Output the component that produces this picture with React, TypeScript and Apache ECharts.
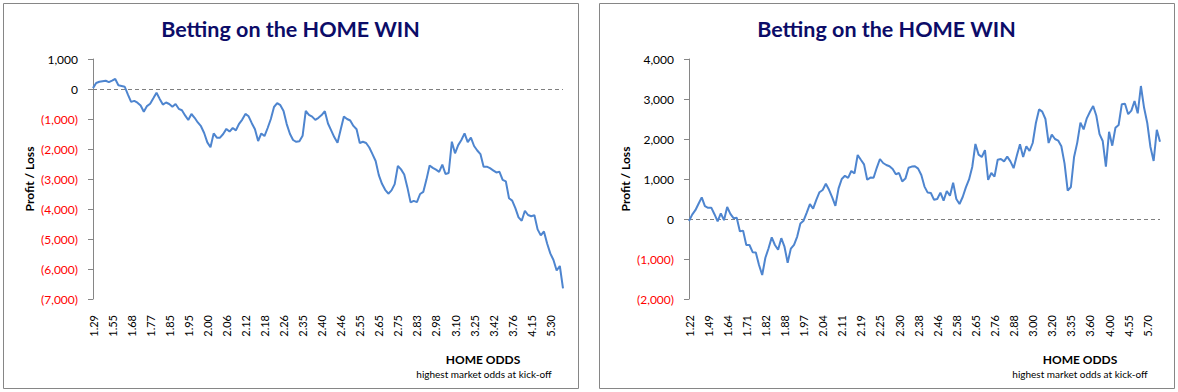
import React, { useEffect, useRef } from "react";
import * as echarts from "echarts";

// ---- data ----
const TICK_STEP = 6;

const leftTicks = ["1.29","1.55","1.68","1.77","1.85","1.95","2.00","2.06","2.12","2.18","2.26","2.35","2.40","2.46","2.55","2.65","2.75","2.83","2.98","3.10","3.25","3.42","3.76","4.15","5.30"];
const rightTicks = ["1.22","1.49","1.64","1.71","1.82","1.88","1.97","2.04","2.11","2.19","2.25","2.30","2.38","2.46","2.58","2.65","2.76","2.88","3.00","3.20","3.35","3.60","4.00","4.55","5.70"];

const leftValues = [
  30, 200, 240, 260, 275, 230, 280, 333, 125, 100,
  75, -190, -430, -395, -455, -550, -757, -570, -490, -310,
  -123, -330, -520, -450, -500, -590, -500, -660, -708, -880,
  -1033, -833, -960, -1115, -1240, -1465, -1780, -1943, -1480, -1623,
  -1623, -1500, -1330, -1420, -1300, -1380, -1160, -1020, -830, -910,
  -1140, -1343, -1733, -1480, -1567, -1300, -1000, -600, -470, -540,
  -730, -1170, -1490, -1700, -1760, -1740, -1560, -733, -860, -920,
  -1030, -960, -870, -740, -1150, -1380, -1610, -1790, -1350, -920,
  -1000, -1050, -1230, -1340, -1800, -1760, -1800, -1950, -2170, -2400,
  -2870, -3160, -3360, -3490, -3380, -3170, -2560, -2680, -2850, -3280,
  -3780, -3730, -3770, -3500, -3430, -3020, -2550, -2630, -2690, -2760,
  -2520, -2833, -2800, -1757, -2143, -1870, -1700, -1480, -1770, -1620,
  -1900, -2050, -2170, -2590, -2590, -2640, -2710, -2780, -2760, -3030,
  -3080, -3643, -3720, -3970, -4280, -4390, -4060, -4200, -4240, -4210,
  -4680, -4880, -4750, -5150, -5480, -5700, -6050, -5900, -6643,
];

const rightValues = [
  -50, 110, 220, 380, 542, 320, 280, 283, 120, -60,
  142, -30, 300, 130, 20, 30, -310, -290, -650, -650,
  -830, -840, -1150, -1400, -970, -730, -460, -650, -770, -480,
  -692, -1092, -740, -645, -440, -110, -42, 160, 370, 260,
  480, 670, 725, 880, 730, 540, 330, 765, 1000, 1080,
  1030, 1200, 1140, 1600, 1480, 1365, 980, 1035, 1030, 1280,
  1500, 1400, 1350, 1320, 1250, 1120, 1150, 940, 1010, 1280,
  1310, 1320, 1260, 1100, 810, 660, 650, 480, 500, 660,
  460, 700, 580, 908, 500, 375, 550, 790, 990, 1300,
  1875, 1610, 1550, 1720, 980, 1150, 1058, 1480, 1500, 1440,
  1560, 1440, 1270, 1580, 1870, 1550, 1820, 1700, 1900, 2400,
  2740, 2683, 2500, 1900, 2110, 2000, 1960, 1820, 1390, 708,
  800, 1550, 1910, 2410, 2240, 2517, 2680, 2825, 2580, 2120,
  1950, 1308, 2180, 1833, 2280, 2350, 2870, 2880, 2620, 2710,
  2950, 2642, 3325, 2780, 2400, 1800, 1450, 2230, 1933,
];

const titleText = "Betting on the HOME WIN";
const yName = "Profit / Loss";
const xName = "HOME ODDS";
const xSub = "highest market odds at kick-off";

const FONT = "Lato, 'Open Sans', sans-serif";
const LINE_COLOR = "#4e85cf";
const AXIS_COLOR = "#868686";
const TITLE_COLOR = "#0c0c68";

function fmt(v: number): string {
  const s = Math.abs(v).toLocaleString("en-US");
  return v < 0 ? `{neg|(${s})}` : `{pos|${s}}`;
}

function xAxisFor(gridIndex: number, values: number[], ticks: string[]) {
  return {
    type: "category",
    gridIndex,
    boundaryGap: false,
    data: values.map((_, i) => String(i)),
    axisLine: { show: false },
    axisTick: { show: false },
    splitLine: { show: false },
    axisLabel: {
      interval: TICK_STEP - 1,
      rotate: 90,
      margin: 16,
      fontSize: 11,
      fontFamily: FONT,
      color: "#000",
      formatter: (_v: string, idx: number) =>
        idx % TICK_STEP === 0 ? ticks[idx / TICK_STEP] ?? "" : "",
    },
  };
}

function yAxisFor(gridIndex: number, min: number, max: number) {
  return {
    type: "value",
    gridIndex,
    min,
    max,
    interval: 1000,
    axisLine: { show: true, lineStyle: { color: AXIS_COLOR, width: 1 } },
    axisTick: { show: true, length: 5, lineStyle: { color: AXIS_COLOR } },
    splitLine: { show: false },
    axisLabel: {
      margin: 15,
      formatter: (v: number) => fmt(v),
      rich: {
        neg: { color: "#ff0000", fontSize: 12, fontFamily: FONT },
        pos: { color: "#000000", fontSize: 12, fontFamily: FONT },
      },
    },
  };
}

function seriesFor(idx: number, values: number[]) {
  return {
    type: "line",
    xAxisIndex: idx,
    yAxisIndex: idx,
    data: values,
    showSymbol: false,
    symbol: "none",
    lineStyle: { color: LINE_COLOR, width: 2 },
    z: 3,
    markLine: {
      silent: true,
      symbol: ["none", "none"],
      label: { show: false },
      lineStyle: { color: "#7f7f7f", width: 1, type: [4, 3] },
      data: [{ yAxis: 0 }],
      z: 2,
    },
  };
}

function text(x: number, y: number, t: string, size: number, weight: string, fill: string, rotation = 0) {
  return {
    type: "text",
    x,
    y,
    rotation,
    style: {
      text: t,
      fontSize: size,
      fontWeight: weight,
      fontFamily: FONT,
      fill,
      align: "center",
      verticalAlign: "middle",
      textAlign: "center",
      textVerticalAlign: "middle",
    },
  };
}

export default function App() {
  const ref = useRef<HTMLDivElement>(null);

  useEffect(() => {
    if (!ref.current) return;
    const chart = echarts.init(ref.current, undefined, { renderer: "svg" });
    chart.setOption({
      animation: false,
      backgroundColor: "#ffffff",
      grid: [
        { left: 93, top: 59, width: 470, height: 240 },
        { left: 689, top: 59, width: 471, height: 240 },
      ],
      xAxis: [xAxisFor(0, leftValues, leftTicks), xAxisFor(1, rightValues, rightTicks)],
      yAxis: [yAxisFor(0, -7000, 1000), yAxisFor(1, -2000, 4000)],
      series: [seriesFor(0, leftValues), seriesFor(1, rightValues)],
      graphic: [
        {
          type: "rect",
          shape: { x: 3.5, y: 3.5, width: 575, height: 385 },
          style: { fill: "none", stroke: AXIS_COLOR, lineWidth: 1 },
          silent: true,
        },
        {
          type: "rect",
          shape: { x: 599.5, y: 3.5, width: 575, height: 385 },
          style: { fill: "none", stroke: AXIS_COLOR, lineWidth: 1 },
          silent: true,
        },
        text(290.5, 29, titleText, 21.5, "bold", TITLE_COLOR),
        text(886.5, 29, titleText, 21.5, "bold", TITLE_COLOR),
        text(29, 179, yName, 12, "bold", "#000", Math.PI / 2),
        text(625, 179, yName, 12, "bold", "#000", Math.PI / 2),
        text(483, 359, xName, 12, "bold", "#000"),
        text(1080, 359, xName, 12, "bold", "#000"),
        text(484, 374, xSub, 10, "normal", "#000"),
        text(1080, 374, xSub, 10, "normal", "#000"),
      ],
    });
    return () => chart.dispose();
  }, []);

  return (
    <div
      ref={ref}
      style={{ position: "fixed", left: 0, top: 0, width: 1178, height: 392, background: "#fff" }}
    />
  );
}
